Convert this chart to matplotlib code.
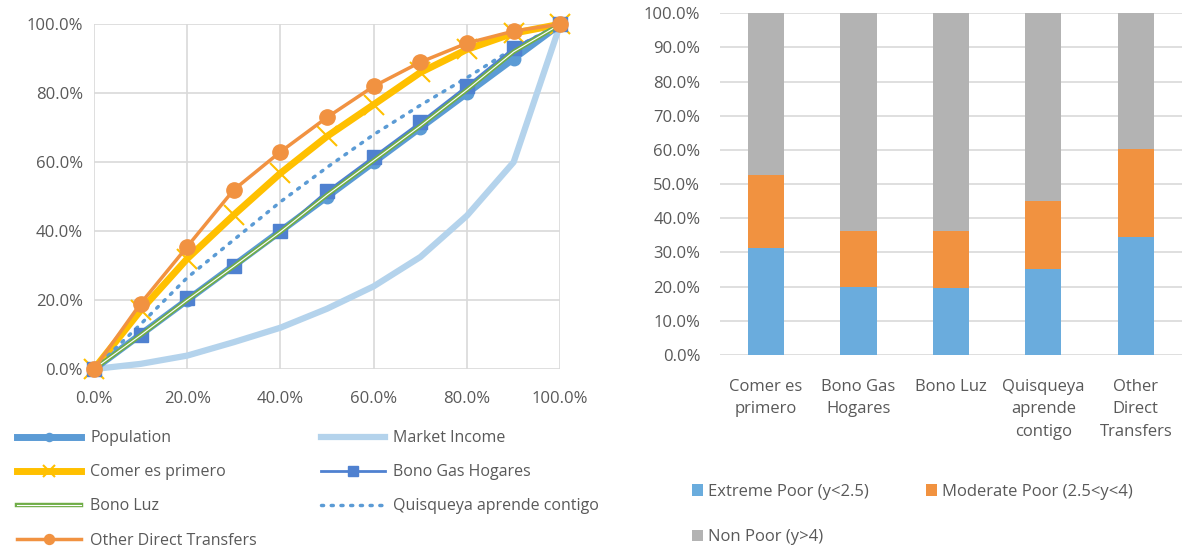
import numpy as np
import matplotlib
matplotlib.use("Agg")
import matplotlib.pyplot as plt
import matplotlib.patheffects as pe
from matplotlib.ticker import PercentFormatter

plt.rcParams['font.family'] = ['Open Sans', 'DejaVu Sans']

# --- Lorenz curves (left) ---
pop_share = [0, 10, 20, 30, 40, 50, 60, 70, 80, 90, 100]
population = [0, 10, 20, 30, 40, 50, 60, 70, 80, 90, 100]
market_income = [0, 1.5, 3.9, 7.8, 12, 17.5, 24, 32.5, 44.5, 60, 100]
comer = [0, 17, 32, 44.7, 56.8, 67.5, 76.7, 86, 92.7, 97.4, 100]
bono_gas = [0, 10, 20.5, 30, 40, 51.5, 61.5, 71.5, 82, 93, 100]
bono_luz = [0, 9.8, 20, 29.8, 39.8, 50.5, 60.5, 70.5, 81, 92, 100]
quisqueya = [0, 13, 26.5, 37.5, 48.5, 58.5, 68, 76.5, 84.5, 93, 100]
other_dt = [0, 19, 35.5, 52, 63, 73, 82, 89, 94.5, 98, 100]

# --- poverty shares (right) ---
programs = ["Comer es\nprimero", "Bono Gas\nHogares", "Bono Luz",
            "Quisqueya\naprende\ncontigo", "Other\nDirect\nTransfers"]
extreme = [31.2, 19.9, 19.6, 25.2, 34.6]
moderate = [21.5, 16.5, 16.6, 19.8, 25.6]
non_poor = [47.3, 63.6, 63.8, 55.0, 39.8]

grey_txt = '#595959'
grid_c = '#d9d9d9'

fig = plt.figure(figsize=(11.82, 5.5), dpi=100)

ax = fig.add_axes([0.0795, 0.329, 0.3945, 0.627])
ax.plot(pop_share, population, color='#5b9bd5', lw=5, marker='o', ms=9,
        label='Population', clip_on=False, zorder=3)
ax.plot(pop_share, market_income, color='#b4d3ec', lw=4.5,
        label='Market Income', clip_on=False, zorder=2)
ax.plot(pop_share, comer, color='#ffc000', lw=5, marker='x', ms=14, mew=1.5,
        label='Comer es primero', clip_on=False, zorder=3)
ax.plot(pop_share, bono_gas, color='#4f81d0', lw=2, marker='s', ms=10,
        label='Bono Gas Hogares', clip_on=False, zorder=4)
ax.plot(pop_share, bono_luz, color='white', lw=0.8, label='Bono Luz', clip_on=False,
        zorder=5, path_effects=[pe.Stroke(linewidth=3.2, foreground='#70ad47'), pe.Normal()])
ax.plot(pop_share, quisqueya, color='#5b9bd5', lw=2.5, ls=(0, (0.6, 2.2)),
        dash_capstyle='round', label='Quisqueya aprende contigo', clip_on=False, zorder=3)
ax.plot(pop_share, other_dt, color='#f19241', lw=2.5, marker='o', ms=11,
        label='Other Direct Transfers', clip_on=False, zorder=6)

ax.set_xlim(0, 100)
ax.set_ylim(0, 100)
ax.set_xticks(np.arange(0, 101, 20))
ax.set_yticks(np.arange(0, 101, 20))
ax.xaxis.set_major_formatter(PercentFormatter(decimals=1))
ax.yaxis.set_major_formatter(PercentFormatter(decimals=1))
ax.grid(True, color=grid_c, lw=1.2)
ax.set_axisbelow(True)
for s in ax.spines.values():
    s.set_visible(False)
ax.tick_params(length=0, labelsize=12, colors=grey_txt)
ax.tick_params(axis='x', pad=16)
ax.tick_params(axis='y', pad=8)

h, l = ax.get_legend_handles_labels()
order = [0, 2, 4, 6, 1, 3, 5]
fig.legend([h[i] for i in order], [l[i] for i in order], ncol=2,
           loc='upper left', bbox_to_anchor=(0.008, 0.232), frameon=False,
           fontsize=11.5, labelcolor=grey_txt, handlelength=4.0, handletextpad=0.55,
           columnspacing=4.0, labelspacing=1.13, borderpad=0, markerscale=0.65)

# --- right panel ---
ax2 = fig.add_axes([0.609, 0.3545, 0.391, 0.6215])
x = np.arange(len(programs))
w = 0.39
b1 = ax2.bar(x, extreme, w, color='#6aacdd', label='Extreme Poor (y<2.5)', zorder=3)
b2 = ax2.bar(x, moderate, w, bottom=extreme, color='#f19240',
             label='Moderate Poor (2.5<y<4)', zorder=3)
b3 = ax2.bar(x, non_poor, w, bottom=np.array(extreme) + np.array(moderate),
             color='#b3b3b3', label='Non Poor (y>4)', zorder=3)
ax2.set_xlim(-0.5, 4.5)
ax2.set_ylim(0, 100)
ax2.set_yticks(np.arange(0, 101, 10))
ax2.yaxis.set_major_formatter(PercentFormatter(decimals=1))
ax2.set_xticks(x)
ax2.set_xticklabels(programs, linespacing=1.55)
ax2.grid(True, axis='y', color=grid_c, lw=1.2)
ax2.set_axisbelow(True)
for s in ax2.spines.values():
    s.set_visible(False)
ax2.tick_params(length=0, labelsize=12, colors=grey_txt)
ax2.tick_params(axis='y', pad=14)
ax2.tick_params(axis='x', pad=17)

fig.legend([b1, b3, b2], ['Extreme Poor (y<2.5)', 'Non Poor (y>4)', 'Moderate Poor (2.5<y<4)'],
           ncol=2, loc='upper left', bbox_to_anchor=(0.578, 0.135), frameon=False,
           fontsize=12, labelcolor=grey_txt, handlelength=0.7, handleheight=0.7,
           handletextpad=0.3, columnspacing=3.4, labelspacing=1.75, borderpad=0)

fig.savefig('out.png', dpi=100)
